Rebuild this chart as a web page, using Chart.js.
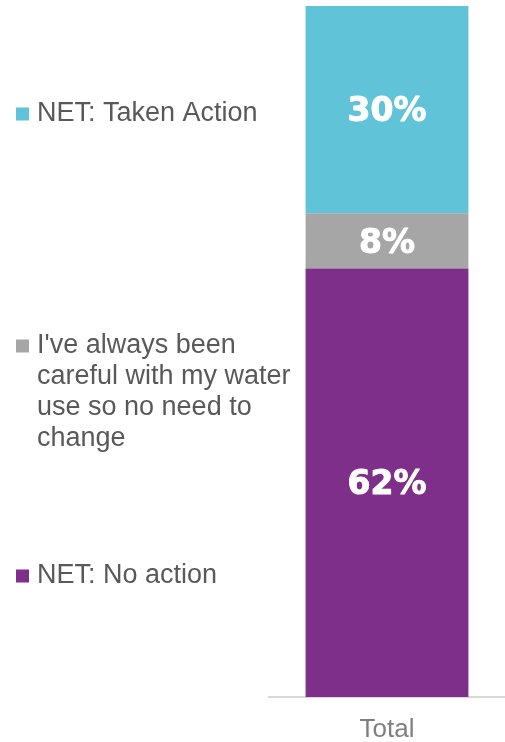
<!DOCTYPE html>
<html>
<head>
<meta charset="utf-8">
<script src="https://cdn.jsdelivr.net/npm/chart.js@4"></script>
<style>
  html, body { margin: 0; padding: 0; background: #fff; }
  #wrap { width: 505px; height: 742px; }
</style>
</head>
<body>
<div id="wrap"><canvas id="waterChart"></canvas></div>
<script>
/* =========================
   DATA
========================= */

const categories = ["Total"];
const noAction = [62];
const alwaysCareful = [8];
const takenAction = [30];
const seriesNames = [
  "NET: No action",
  "I've always been careful with my water use so no need to change",
  "NET: Taken Action"
];
const seriesColors = ["#7E2F8A", "#A6A6A6", "#60C3D8"];

/* =========================
   PLUGINS
========================= */

// white percentage inside each segment
const barLabels = {
  id: "barLabels",
  afterDatasetsDraw(chart) {
    const c = chart.ctx;
    c.save();
    c.fillStyle = "#ffffff";
    c.strokeStyle = "#ffffff";
    c.lineWidth = 1;
    c.lineJoin = "round";
    c.font = "bold 33px 'DejaVu Sans'";
    c.textAlign = "center";
    c.textBaseline = "middle";
    chart.data.datasets.forEach((ds, i) => {
      chart.getDatasetMeta(i).data.forEach((bar, j) => {
        const mid = (bar.y + bar.base) / 2 + 3;
        const txt = ds.data[j] + "%";
        c.strokeText(txt, bar.x, mid);
        c.fillText(txt, bar.x, mid);
      });
    });
    c.restore();
  }
};

// legend on the left, one entry per segment, wrapped text
const sideLegend = {
  id: "sideLegend",
  afterDraw(chart, args, opts) {
    const c = chart.ctx;
    c.save();
    c.font = opts.font;
    c.textBaseline = "middle";
    chart.data.datasets.forEach((ds, i) => {
      const y = opts.rows[i];
      c.fillStyle = ds.backgroundColor;
      c.fillRect(opts.x, y - 6.5, 13, 13);

      const words = ds.label.split(" ");
      const lines = [];
      let line = "";
      words.forEach(w => {
        const test = line ? line + " " + w : w;
        if (line && c.measureText(test).width > opts.maxWidth) {
          lines.push(line);
          line = w;
        } else {
          line = test;
        }
      });
      lines.push(line);

      c.fillStyle = opts.color;
      lines.forEach((l, k) => c.fillText(l, opts.x + 21, y + k * opts.lineHeight));
    });
    c.restore();
  }
};

/* =========================
   CHART
========================= */

new Chart(document.getElementById("waterChart"), {
  type: "bar",
  data: {
    labels: categories,
    datasets: [
      { label: seriesNames[0], data: noAction, backgroundColor: seriesColors[0] },
      { label: seriesNames[1], data: alwaysCareful, backgroundColor: seriesColors[1] },
      { label: seriesNames[2], data: takenAction, backgroundColor: seriesColors[2] }
    ]
  },
  options: {
    responsive: true,
    maintainAspectRatio: false,
    animation: false,
    layout: { padding: { left: 269, top: 6, right: 0, bottom: 0 } },
    datasets: {
      bar: { barPercentage: 0.69, categoryPercentage: 1, borderWidth: 0 }
    },
    scales: {
      x: {
        stacked: true,
        grid: { display: false, drawTicks: false },
        border: { color: "#D9D9D9", width: 2 },
        ticks: {
          color: "#7F7F7F",
          padding: 17,
          font: { family: "'Liberation Sans', Arial", size: 26 }
        },
        afterFit(scale) { scale.height = 45; }
      },
      y: { stacked: true, display: false, min: 0, max: 100 }
    },
    plugins: {
      legend: { display: false },
      tooltip: { enabled: false },
      sideLegend: {
        x: 16,
        rows: [576, 346, 114],
        maxWidth: 262,
        lineHeight: 31,
        color: "#595959",
        font: "27px 'Liberation Sans', Arial"
      }
    }
  },
  plugins: [barLabels, sideLegend]
});
</script>
</body>
</html>
